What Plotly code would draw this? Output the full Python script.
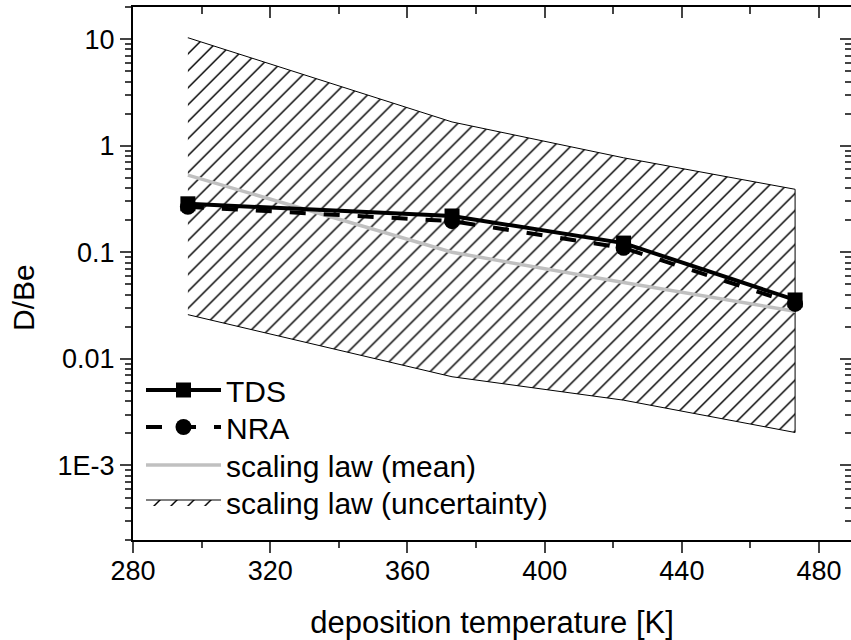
import plotly.graph_objects as go

# ---- data ----
temperature = [296, 373, 423, 473]          # deposition temperature [K]
tds = [0.285, 0.219, 0.122, 0.0357]         # D/Be from TDS
nra = [0.267, 0.196, 0.110, 0.0328]         # D/Be from NRA
scaling_mean = [0.53, 0.100, 0.052, 0.0280]
scaling_upper = [10.3, 1.67, 0.77, 0.39]
scaling_lower = [0.026, 0.0068, 0.0041, 0.00204]

y_tickvals = [1e-3, 1e-2, 1e-1, 1, 10]
y_ticktext = ["1E-3", "0.01", "0.1", "1", "10"]
x_tickvals = [280, 320, 360, 400, 440, 480]
x_minor = [300, 340, 380, 420, 460]

FONT = "Liberation Sans, Arial, sans-serif"

band_x = temperature + temperature[::-1]
band_y = scaling_upper + scaling_lower[::-1]

y_minor = [m * 10 ** e for e in range(-4, 2) for m in range(2, 10)]

fig = go.Figure()

fig.add_trace(go.Scatter(
    x=band_x, y=band_y, fill="toself", mode="lines",
    line=dict(color="black", width=1),
    fillcolor="rgba(0,0,0,0)",
    fillpattern=dict(shape="/", size=12, solidity=0.12, fgcolor="black",
                     bgcolor="rgba(255,255,255,0)", fgopacity=1),
    name="scaling law (uncertainty)", legend="legend4",
))
fig.add_trace(go.Scatter(
    x=temperature, y=scaling_mean, mode="lines",
    line=dict(color="#c0c0c0", width=3.5),
    name="scaling law (mean)", legend="legend3",
))
fig.add_trace(go.Scatter(
    x=temperature, y=nra, mode="lines+markers",
    line=dict(color="black", width=4, dash="16px,18px"),
    marker=dict(symbol="circle", size=16, color="black"),
    name="NRA", legend="legend2",
))
fig.add_trace(go.Scatter(
    x=temperature, y=tds, mode="lines+markers",
    line=dict(color="black", width=4),
    marker=dict(symbol="square", size=15, color="black"),
    name="TDS", legend="legend",
))
# empty helper trace so the mirrored top/right axes are drawn
fig.add_trace(go.Scatter(x=[], y=[], xaxis="x2", yaxis="y2",
                         showlegend=False, hoverinfo="skip"))

xr = [280, 489.3]
yr = [-3.699, 1.301]

PLOT_H = 533.0
PLOT_W = 718.0


def leg(row_center_px):
    return dict(x=8 / PLOT_W, y=(540 - row_center_px) / PLOT_H,
                xanchor="left", yanchor="middle",
                bgcolor="rgba(0,0,0,0)", font=dict(size=30, family=FONT),
                itemwidth=75)


fig.update_layout(
    width=851, height=640,
    margin=dict(l=133, r=0, t=7, b=100),
    paper_bgcolor="white", plot_bgcolor="white",
    font=dict(family=FONT, size=27, color="black"),
    showlegend=True,
    legend=leg(390), legend2=leg(427), legend3=leg(465), legend4=leg(502),
    xaxis=dict(range=xr, tickvals=x_tickvals, ticks="outside", ticklen=11,
               tickwidth=2, showline=True, linewidth=2, linecolor="black",
               showgrid=False, zeroline=False, ticklabelstandoff=-5,
               minor=dict(tickvals=x_minor, ticks="outside",
                          ticklen=6, tickwidth=2, showgrid=False),
               title=dict(text="deposition temperature [K]", font=dict(size=31),
                          standoff=26)),
    xaxis2=dict(range=xr, overlaying="x", side="top", tickvals=x_tickvals,
                ticks="inside", ticklen=11, tickwidth=2, showline=True,
                linewidth=2, linecolor="black", showticklabels=False,
                showgrid=False, zeroline=False, anchor="y2",
                minor=dict(tickvals=x_minor, ticks="inside",
                           ticklen=7, tickwidth=2, showgrid=False)),
    yaxis=dict(type="log", range=yr, tickvals=y_tickvals, ticktext=y_ticktext,
               ticks="outside", ticklen=11, tickwidth=2, showline=True,
               linewidth=2, linecolor="black", showgrid=False, zeroline=False,
               minor=dict(tickvals=y_minor, ticks="outside", ticklen=6,
                          tickwidth=2, showgrid=False)),
    yaxis2=dict(type="log", range=yr, overlaying="y", side="right",
                tickvals=y_tickvals, ticks="inside", ticklen=11, tickwidth=2,
                showline=False, showticklabels=False, showgrid=False,
                zeroline=False, anchor="x2",
                minor=dict(tickvals=y_minor, ticks="inside", ticklen=6,
                           tickwidth=2, showgrid=False)),
    annotations=[dict(text="D/Be", xref="paper", yref="paper",
                      x=-133 / PLOT_W + 23 / PLOT_W, y=(540 - 297) / PLOT_H,
                      xanchor="center", yanchor="middle", textangle=-90,
                      showarrow=False, font=dict(size=30, family=FONT))],
)

fig.write_html("out.html")
